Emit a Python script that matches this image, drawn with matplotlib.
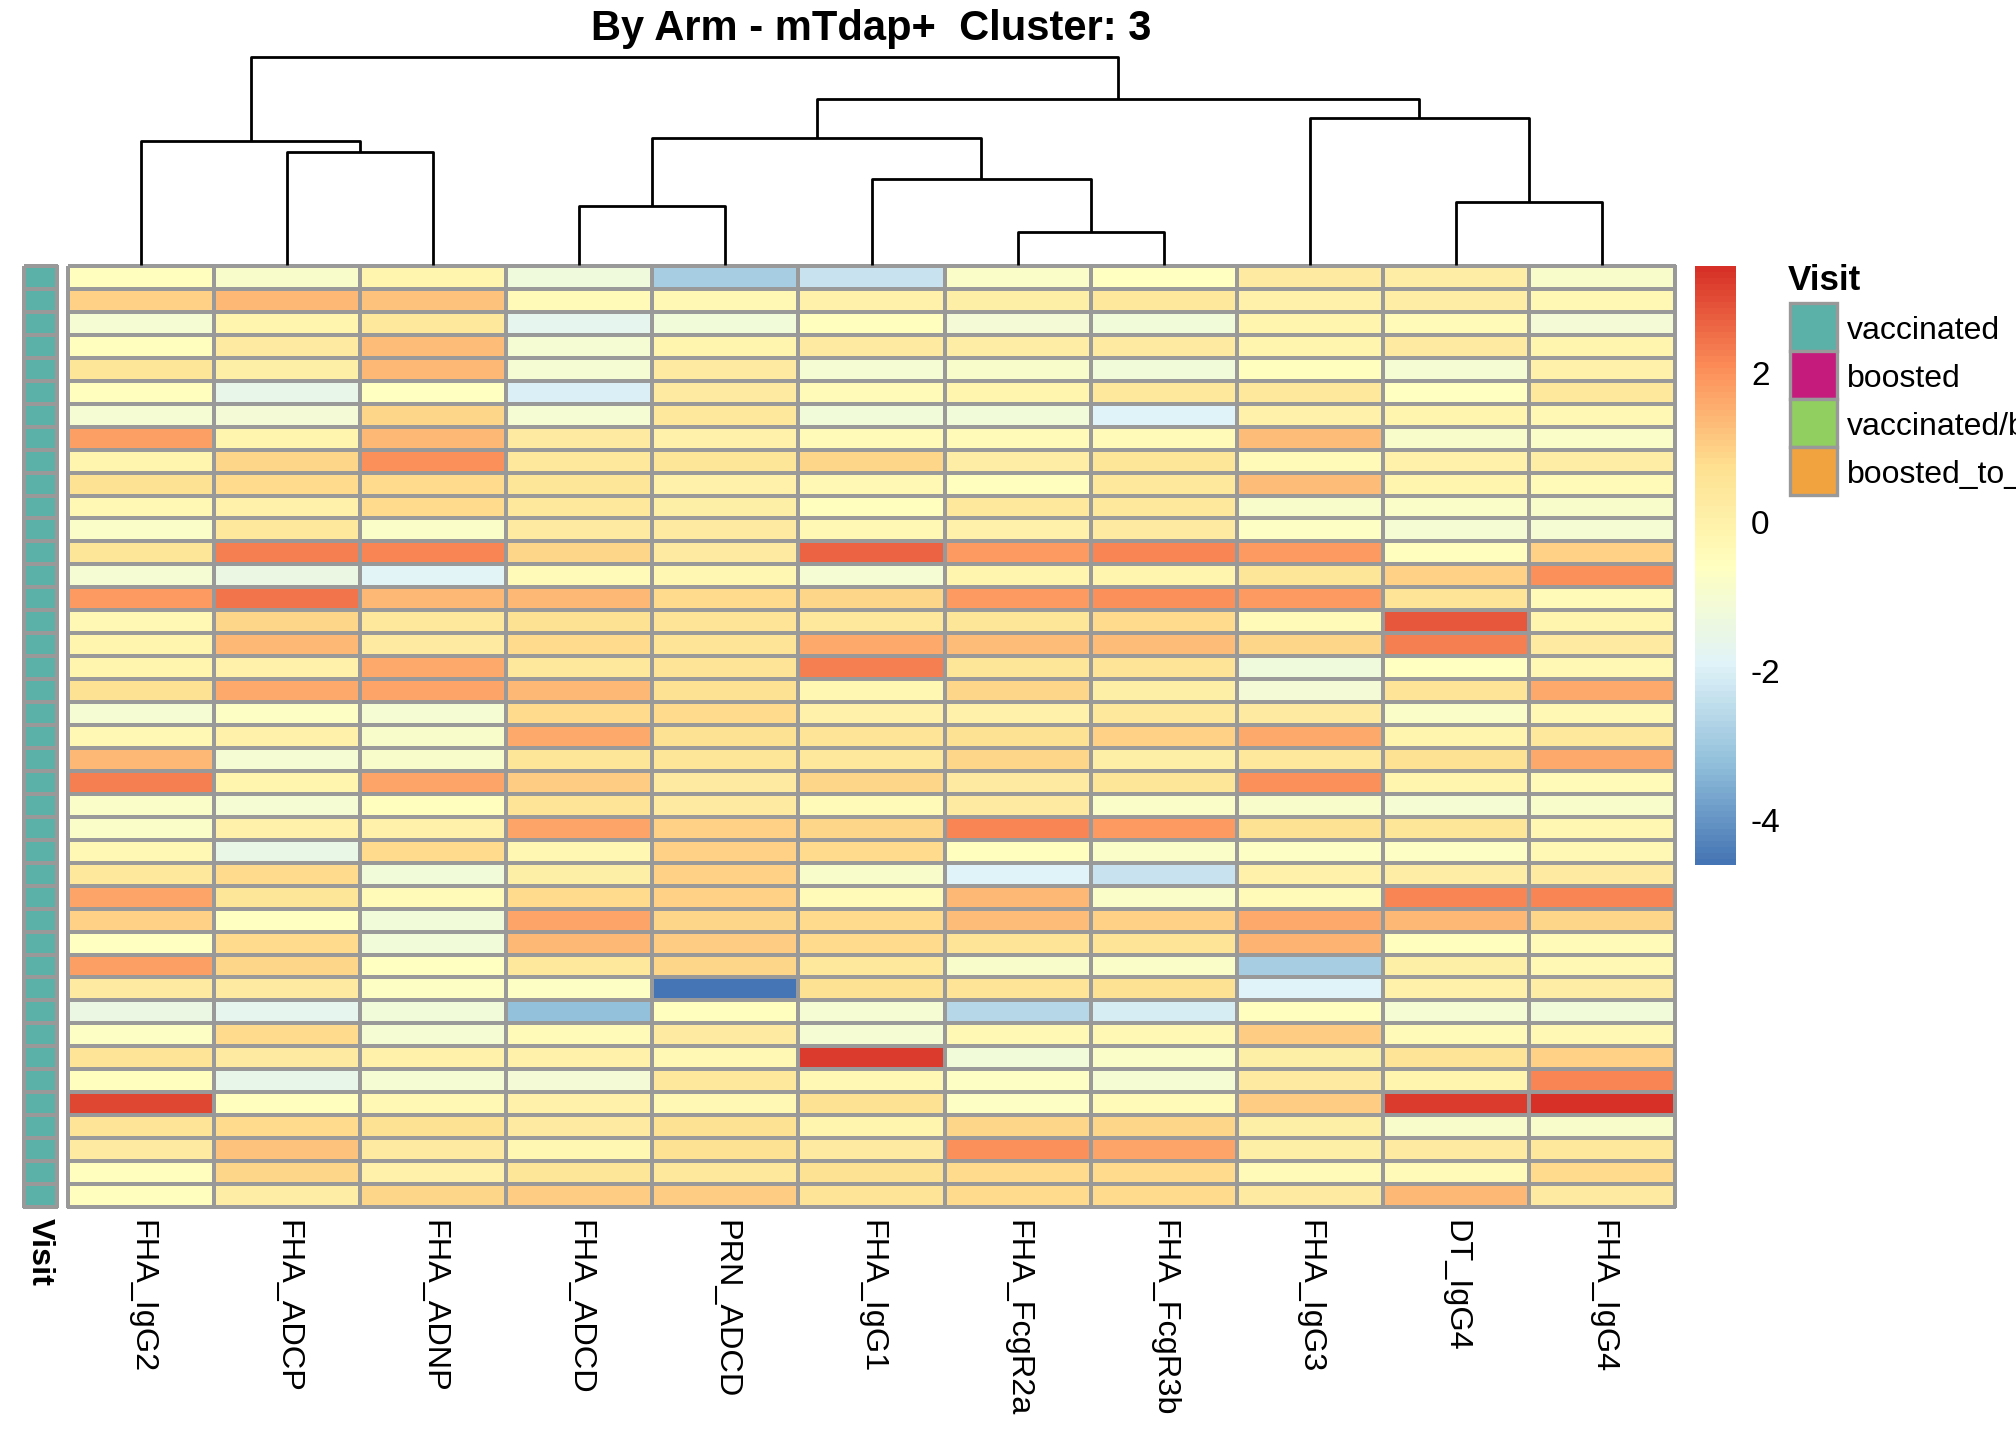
import numpy as np
import matplotlib
matplotlib.use("Agg")
import matplotlib.pyplot as plt
from matplotlib.colors import LinearSegmentedColormap, ListedColormap
from matplotlib.patches import Rectangle

plt.rcParams['font.family'] = ['Liberation Sans', 'DejaVu Sans']
plt.rcParams['axes.unicode_minus'] = False

W, H = 2016, 1440
DPI = 200

title = "By Arm - mTdap+  Cluster: 3"

# column order as drawn (after clustering)
features = ["FHA_IgG2", "FHA_ADCP", "FHA_ADNP", "FHA_ADCD", "PRN_ADCD", "FHA_IgG1",
            "FHA_FcgR2a", "FHA_FcgR3b", "FHA_IgG3", "DT_IgG4", "FHA_IgG4"]

# z-scored values, one list per feature, rows top -> bottom
fha_igg2 = [-0.5, 1.0, -1.0, -0.5, 0.5, -0.5, -1.0, 1.8, -0.1, 0.7, -0.3, -0.8, 0.5, -1.0,
            1.9, -0.3, -0.1, -0.1, 0.7, -1.0, -0.3, 1.4, 2.3, -0.8, -0.8, -0.3, 0.4, 1.7,
            1.0, -0.6, 1.8, 0.3, -1.4, -0.7, 0.6, -0.5, 3.1, 0.6, 0.3, -0.5, -0.5]
fha_adcp = [-0.9, 1.4, -0.1, 0.3, 0.1, -1.6, -1.1, -0.1, 0.9, 0.8, 0.0, 0.4, 2.3, -1.4,
            2.4, 0.9, 1.4, 0.0, 1.6, -0.7, 0.0, -1.0, -0.1, -1.0, 0.0, -1.5, 0.8, 0.5,
            -0.6, 0.8, 0.9, 0.3, -1.7, 0.8, 0.3, -1.6, -0.5, 0.8, 1.2, 0.9, 0.2]
fha_adnp = [-0.1, 1.2, 0.4, 1.3, 1.4, -0.6, 0.9, 1.4, 2.0, 0.8, 0.8, -0.8, 2.2, -1.8,
            1.4, 0.4, 0.3, 1.6, 1.7, -1.0, -0.9, -0.9, 1.7, -0.5, 0.0, 0.8, -1.2, -0.4,
            -1.2, -1.2, -0.6, -0.7, -1.2, -1.0, 0.0, -1.0, -0.3, 0.7, 0.3, 0.0, 0.9]
fha_adcd = [-1.3, -0.4, -1.7, -1.0, -1.0, -2.0, -1.0, 0.3, 0.4, 0.5, 0.4, 0.3, 0.9, -0.4,
            1.4, 0.7, 0.8, 0.4, 1.4, 0.8, 1.6, 0.5, 1.1, 0.6, 1.7, -0.2, 0.1, 0.8,
            1.7, 1.4, 0.4, -0.7, -3.2, -0.4, 0.0, -1.1, 0.0, 0.3, -0.2, 0.5, 1.1]
prn_adcd = [-2.9, -0.3, -1.2, -0.1, 0.3, 0.3, 0.4, 0.0, 0.5, 0.0, 0.1, 0.3, 0.3, -0.2,
            0.8, 0.6, 0.6, 0.6, 0.7, 0.8, 0.7, 0.5, 0.3, 0.3, 1.0, 1.0, 1.0, 1.0,
            0.9, 1.1, 0.9, -4.6, -0.5, 0.3, -0.3, 0.4, -0.3, 0.7, 0.7, 0.4, 1.1]
fha_igg1 = [-2.3, 0.0, -0.5, 0.3, -1.0, -0.4, -1.2, -0.4, 0.9, -0.3, -0.5, -0.3, 2.7, -1.0,
            0.9, 0.4, 1.6, 2.3, -0.2, 0.0, 0.6, 0.4, 0.9, -0.4, 0.9, 0.8, -0.9, -0.4,
            0.8, 0.8, 0.4, 0.7, -1.0, -1.0, 3.2, -0.3, 0.7, -0.1, 0.3, 0.7, 0.6]
fha_fcgr2a = [-0.8, 0.1, -1.1, 0.2, -0.9, -0.1, -1.2, -0.4, 0.2, -0.5, 0.4, 0.0, 1.9, -0.1,
              1.9, 0.5, 1.3, 0.5, 0.9, 0.0, 0.7, 0.9, 0.3, 0.3, 2.2, -0.5, -1.9, 1.4,
              1.3, 0.6, -0.9, 0.6, -2.6, -0.3, -1.2, -0.7, -0.7, 0.9, 2.0, 0.8, 0.8]
fha_fcgr3b = [-0.6, 0.4, -1.2, 0.3, -1.2, 0.4, -1.9, -0.4, 0.5, 0.4, 0.4, 0.3, 2.2, -0.1,
              2.0, 0.8, 1.3, 0.6, 0.1, 0.4, 1.0, 0.1, 0.5, -0.8, 1.9, -0.8, -2.3, -0.8,
              1.0, 0.6, -0.8, 0.7, -2.1, -0.3, -0.8, -1.0, -0.4, 0.9, 1.7, 0.8, 0.8]
fha_igg3 = [0.3, 0.0, -0.1, -0.1, -0.5, 0.4, 0.0, 1.3, -0.4, 1.3, -0.9, -0.7, 1.9, 0.5,
            1.9, -0.4, 0.9, -1.3, -1.1, 0.3, 1.6, 0.4, 2.0, -0.9, 0.7, -0.7, 0.0, -0.4,
            1.6, 1.5, -2.9, -1.9, -0.5, 1.1, 0.1, 0.3, 1.1, 0.1, 0.1, -0.4, 0.3]
dt_igg4 = [0.2, 0.2, -0.4, 0.3, -1.0, -0.6, -0.1, -0.9, 0.0, -0.1, -0.8, -1.0, -0.5, 1.0,
           0.6, 2.8, 2.3, -0.6, 0.6, -0.8, -0.1, 0.7, -0.1, -1.0, 0.5, -0.7, 0.2, 2.2,
           1.4, -0.5, 0.1, 0.0, -1.0, -0.4, 0.6, -0.1, 3.2, -0.9, 0.3, -0.4, 1.4]
fha_igg4 = [-0.9, -0.3, -1.1, -0.1, 0.0, 0.4, -0.3, -0.8, 0.2, -0.4, -0.9, -1.0, 1.0, 2.0,
            -0.4, -0.1, 0.3, -0.3, 1.6, -0.3, 0.4, 1.6, -0.4, -0.9, -0.2, -0.3, 0.3, 2.2,
            0.9, -0.4, -0.3, 0.2, -1.2, -0.3, 1.0, 2.2, 3.44, -0.9, 0.4, 0.8, 0.3]

# row annotation
visit = ["vaccinated"] * 41
visit_levels = ["vaccinated", "boosted", "vaccinated/boosted", "boosted_to_vaccinated"]
visit_colors = ["#5BB1A8", "#C51B7D", "#91CF60", "#F1A340"]

# column dendrogram: (left id, right id, height); leaves 0..10, merges get ids 11..
merges = [(1, 2, 5.64), (9, 10, 3.14), (3, 4, 2.94), (6, 7, 1.64), (5, 14, 4.29),
          (0, 11, 6.19), (13, 15, 6.35), (8, 12, 7.34), (17, 18, 8.29), (16, 19, 10.42)]

cols = [fha_igg2, fha_adcp, fha_adnp, fha_adcd, prn_adcd, fha_igg1,
        fha_fcgr2a, fha_fcgr3b, fha_igg3, dt_igg4, fha_igg4]
M = np.array(cols).T
nr, nc = M.shape

palette = ["#4575B4", "#91BFDB", "#E0F3F8", "#FFFFBF", "#FEE090", "#FC8D59", "#D73027"]
cmap = LinearSegmentedColormap.from_list("rdylbu_r", palette, N=100)
grey = "#999999"

fig = plt.figure(figsize=(W / DPI, H / DPI), dpi=DPI)


def px_axes(x0, y0, x1, y1):
    return fig.add_axes([x0 / W, 1 - y1 / H, (x1 - x0) / W, (y1 - y0) / H])


# heatmap
ax = px_axes(68, 266, 1675, 1207)
mesh = ax.pcolormesh(np.arange(nc + 1), np.arange(nr + 1), M, cmap=cmap,
                     vmin=M.min(), vmax=M.max(), edgecolors=grey, linewidth=0.8)
mesh.set_clip_on(False)
ax.set_xlim(0, nc)
ax.set_ylim(nr, 0)
ax.set_xticks(np.arange(nc) + 0.5)
ax.set_xticklabels(features, rotation=-90, fontsize=11.7)
ax.tick_params(axis='x', length=0, pad=4.5)
ax.set_yticks([])
for s in ax.spines.values():
    s.set_visible(False)

# row annotation strip
ax_a = px_axes(24, 266, 57, 1207)
codes = np.array([[visit_levels.index(v)] for v in visit])
am = ax_a.pcolormesh(np.arange(2), np.arange(nr + 1), codes, cmap=ListedColormap(visit_colors),
                     vmin=-0.5, vmax=len(visit_levels) - 0.5, edgecolors=grey, linewidth=0.8)
am.set_clip_on(False)
ax_a.set_xlim(0, 1)
ax_a.set_ylim(nr, 0)
ax_a.axis('off')

# dendrogram
ax_d = px_axes(68, 56.7, 1675, 265)
pos = {i: (i + 0.5, 0.0) for i in range(nc)}
for k, (a, b, h) in enumerate(merges):
    xa, ha = pos[a]
    xb, hb = pos[b]
    ax_d.plot([xa, xa, xb, xb], [ha, h, h, hb], color='black', lw=1.0,
              solid_capstyle='butt', clip_on=False)
    pos[nc + k] = ((xa + xb) / 2, h)
ax_d.set_xlim(0, nc)
ax_d.set_ylim(0, max(m[2] for m in merges))
ax_d.axis('off')

# colour bar
cax = px_axes(1695, 266, 1736, 865)
cb = fig.colorbar(mesh, cax=cax, ticks=[-4, -2, 0, 2])
cb.outline.set_visible(False)
cax.tick_params(length=0, pad=5.4, labelsize=12)

# overlay for title and legend
ov = fig.add_axes([0, 0, 1, 1])
ov.set_xlim(0, W)
ov.set_ylim(H, 0)
ov.axis('off')
ov.text(871, 29, title, ha='center', va='center', fontsize=15, fontweight='bold')
ov.text(40, 1218, "Visit", rotation=-90, ha='center', va='top', fontsize=11.7, fontweight='bold')

ov.text(1788, 281, "Visit", ha='left', va='center', fontsize=12.6, fontweight='bold')
for i, (lab, col) in enumerate(zip(visit_levels, visit_colors)):
    y = 303 + i * 48
    ov.add_patch(Rectangle((1790, y), 47, 48, facecolor=col, edgecolor=grey, lw=1.2))
    ov.text(1847, y + 28, lab, ha='left', va='center', fontsize=11.5)

fig.savefig("out.png", dpi=DPI)
